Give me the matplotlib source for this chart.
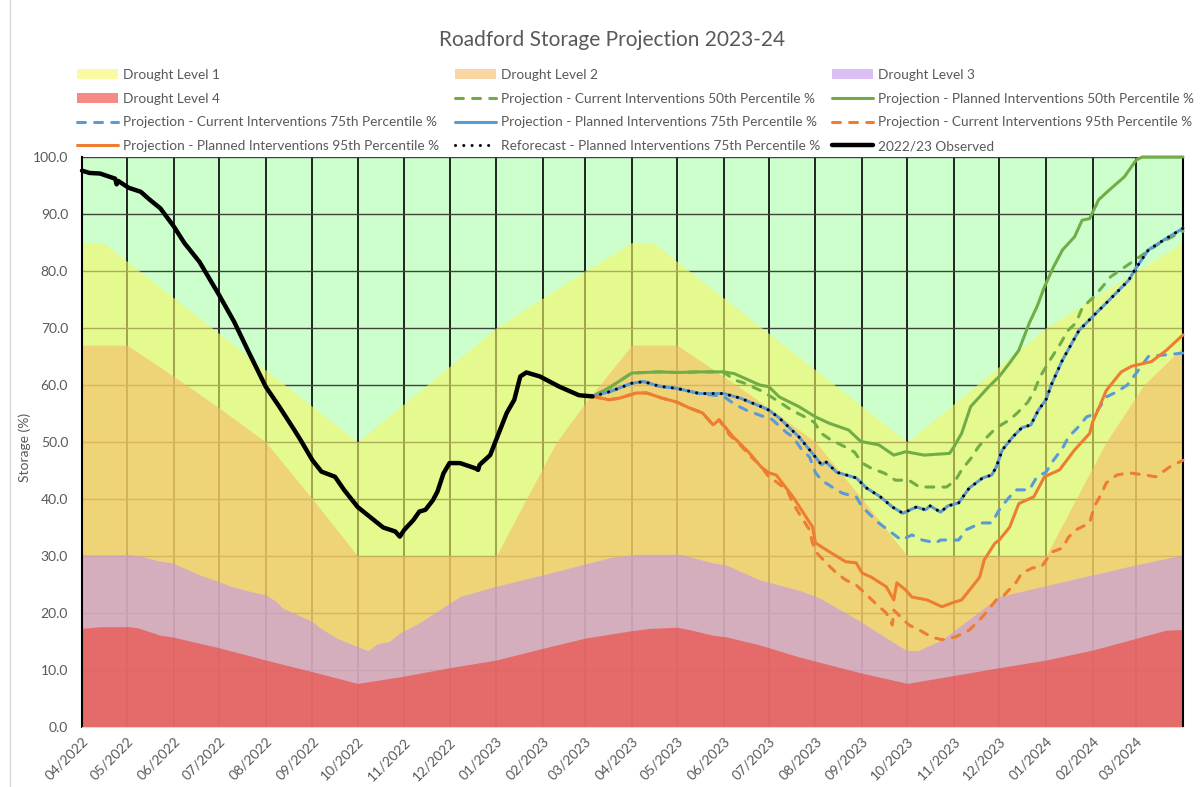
import numpy as np
import pandas as pd
import matplotlib
matplotlib.use('Agg')
import matplotlib.pyplot as plt
from matplotlib.lines import Line2D

plt.rcParams['font.family'] = ['Lato', 'DejaVu Sans']

# x values are days since 1 April 2022
START = np.datetime64('2022-04-01')

# drought trigger curves (%)
l1_days = [0, 14, 183, 275, 334, 365, 379, 548, 640, 700, 731]
l1_vals = [85, 85, 50, 70, 80, 85, 85, 50, 70, 80, 85]

l2_days = [0, 30, 61, 91, 122, 153, 183, 275, 315, 334, 365, 395, 426, 456, 487, 518, 548,
           640, 680, 705, 731]
l2_vals = [67, 67, 61.5, 56, 50, 40, 30, 30, 50, 56.8, 67, 67, 61.5, 56, 50, 40, 30,
           30, 50, 60, 66.7]

l3_days = [0, 31, 39, 50, 60, 66, 78, 91, 100, 113, 122, 129, 133, 153, 158, 169, 183, 190, 196,
           204, 211, 224, 244, 251, 275, 306, 334, 352, 370, 397, 419, 428, 450, 476, 490, 517,
           536, 547, 555, 571, 609, 640, 671, 699, 731]
l3_vals = [30.2, 30.2, 30.0, 29.2, 28.8, 28.1, 26.7, 25.5, 24.6, 23.7, 23.2, 22.0, 20.9, 18.5,
           17.4, 15.6, 14.1, 13.4, 14.6, 15.0, 16.5, 18.3, 21.7, 22.9, 24.7, 26.7, 28.6, 29.8,
           30.3, 30.3, 28.8, 28.4, 25.8, 24.0, 22.6, 18.5, 15.3, 13.5, 13.4, 15.3, 22.9, 24.8,
           26.7, 28.4, 30.2]

l4_days = [0, 12, 31, 37, 52, 60, 78, 91, 122, 153, 183, 211, 244, 275, 306, 334, 365, 377, 395,
           403, 419, 428, 450, 476, 517, 548, 609, 640, 671, 720, 731]
l4_vals = [17.3, 17.6, 17.6, 17.4, 16.1, 15.8, 14.7, 13.9, 11.75, 9.7, 7.65, 8.8, 10.4, 11.75,
           13.8, 15.6, 16.9, 17.3, 17.5, 17.1, 16.1, 15.8, 14.4, 12.3, 9.5, 7.65, 10.4, 11.75,
           13.5, 17.0, 17.1]

# observed storage 2022/23
obs_days = [0, 5, 12, 22, 23, 24, 31, 39, 45, 52, 61, 68, 78, 91, 101, 111, 122, 131, 141, 145,
            153, 159, 168, 174, 183, 191, 200, 208, 211, 214, 220, 224, 228, 233, 236, 240, 244,
            251, 261, 263, 264, 271, 275, 282, 287, 291, 295, 304, 317, 330, 339]
obs_vals = [97.6, 97.2, 97.1, 96.2, 95.2, 95.8, 94.6, 93.9, 92.5, 91.0, 87.8, 84.9, 81.6, 75.8,
            71.1, 65.6, 59.7, 56.2, 52.1, 50.4, 46.8, 44.8, 43.9, 41.6, 38.6, 36.9, 35.0, 34.3,
            33.4, 34.6, 36.3, 37.8, 38.1, 39.8, 41.3, 44.5, 46.3, 46.3, 45.4, 45.1, 46.0, 47.7,
            50.4, 55.1, 57.4, 61.5, 62.2, 61.5, 59.7, 58.2, 58.0]

# projections
pi50_days = [339, 350, 365, 383, 395, 410, 426, 433, 450, 456, 463, 476, 487, 496, 509, 517, 529,
             539, 547, 559, 576, 579, 584, 590, 602, 609, 616, 622, 629, 634, 639, 645, 651, 659,
             664, 669, 675, 682, 692, 700, 704, 731]
pi50_vals = [58.0, 59.5, 62.1, 62.3, 62.2, 62.3, 62.3, 62.0, 60.0, 59.7, 57.9, 56.2, 54.4, 53.3,
             52.1, 50.1, 49.5, 47.7, 48.3, 47.7, 48.0, 49.2, 51.5, 56.2, 59.7, 61.5, 63.9, 66.1,
             70.9, 73.7, 77.2, 80.7, 83.7, 86.0, 88.9, 89.2, 92.5, 94.2, 96.5, 99.5, 100.0, 100.0]

ci50_days = [339, 350, 365, 383, 395, 410, 426, 433, 439, 450, 456, 466, 471, 480, 486, 491, 497,
             507, 513, 518, 524, 533, 540, 549, 556, 574, 580, 584, 591, 595, 601, 607, 616, 621,
             628, 632, 636, 643, 650, 654, 660, 664, 673, 683, 694, 705, 715, 731]
ci50_vals = [58.0, 59.5, 62.1, 62.3, 62.2, 62.3, 62.3, 60.9, 60.4, 59.1, 58.2, 56.5, 55.6, 54.4,
             53.5, 51.5, 50.4, 49.1, 48.2, 46.3, 45.4, 44.5, 43.3, 43.3, 42.1, 42.1, 43.3, 45.1,
             47.4, 49.1, 50.9, 52.5, 53.9, 55.1, 57.0, 58.8, 61.4, 64.5, 67.4, 69.4, 70.9, 73.5,
             75.8, 79.0, 81.0, 83.0, 84.8, 87.0]

pi75_days = [339, 350, 365, 373, 383, 395, 410, 426, 437, 450, 456, 463, 476, 485, 491, 494, 501,
             514, 521, 530, 538, 545, 554, 560, 563, 570, 575, 582, 589, 598, 604, 607, 611, 618,
             624, 630, 635, 640, 644, 651, 662, 671, 682, 695, 699, 708, 718, 731]
pi75_vals = [58.0, 58.8, 60.3, 60.6, 59.8, 59.4, 58.5, 58.5, 57.7, 56.3, 55.6, 54.2, 50.9, 48.0,
             46.0, 46.5, 44.7, 43.7, 41.9, 40.4, 38.6, 37.5, 38.6, 38.1, 38.8, 37.7, 38.8, 39.3,
             41.9, 43.7, 44.2, 45.6, 48.6, 50.9, 52.5, 53.0, 55.6, 57.4, 60.3, 64.4, 69.6, 72.0,
             74.9, 78.4, 80.2, 83.7, 85.4, 87.5]

ci75_days = [339, 350, 365, 373, 383, 395, 410, 426, 434, 441, 451, 458, 468, 472, 478, 483, 487,
             491, 498, 505, 514, 518, 525, 529, 538, 544, 551, 558, 567, 570, 582, 587, 597, 604,
             609, 614, 620, 629, 634, 640, 645, 651, 655, 661, 667, 673, 680, 687, 694, 700, 708,
             731]
ci75_vals = [58.0, 58.8, 60.3, 60.6, 59.8, 59.4, 58.5, 58.0, 56.5, 55.6, 54.6, 54.0, 51.6, 50.9,
             48.6, 47.4, 44.6, 43.3, 42.1, 41.0, 40.4, 38.6, 36.8, 35.8, 34.0, 32.8, 33.7, 32.8,
             32.3, 32.8, 32.8, 34.6, 35.8, 35.8, 38.1, 39.8, 41.6, 41.6, 43.9, 44.7, 46.8, 48.9,
             50.9, 52.5, 54.4, 55.0, 57.9, 58.8, 60.0, 62.1, 65.0, 65.6]

pi95_days = [339, 350, 357, 368, 375, 385, 395, 403, 412, 419, 423, 432, 443, 451, 456, 461, 467,
             472, 485, 487, 494, 507, 514, 518, 524, 534, 539, 541, 547, 551, 561, 571, 578, 584,
             591, 596, 599, 606, 609, 616, 622, 632, 639, 649, 659, 669, 671, 676, 680, 686, 690,
             697, 710, 720, 731]
pi95_vals = [58.0, 57.4, 57.7, 58.6, 58.6, 57.7, 57.0, 56.0, 55.1, 53.0, 53.9, 51.0, 48.1, 45.6,
             44.6, 44.2, 42.1, 40.4, 35.1, 32.3, 31.1, 29.0, 28.8, 27.0, 26.3, 24.6, 22.3, 25.3,
             24.0, 22.8, 22.3, 21.1, 21.8, 22.3, 24.6, 26.3, 29.3, 32.2, 32.8, 35.1, 39.2, 40.4,
             43.9, 45.1, 48.6, 51.5, 53.5, 56.5, 59.0, 61.0, 62.3, 63.3, 64.1, 66.1, 68.8]

ci95_days = [339, 350, 357, 368, 375, 385, 395, 403, 412, 419, 423, 430, 436, 443, 450, 456, 461,
             468, 472, 476, 483, 485, 488, 494, 501, 507, 514, 521, 526, 534, 538, 539, 549, 556,
             564, 571, 580, 589, 596, 600, 607, 611, 620, 624, 631, 637, 644, 651, 655, 660, 669,
             672, 677, 680, 687, 695, 706, 713, 722, 731]
ci95_vals = [58.0, 57.4, 57.7, 58.6, 58.6, 57.7, 57.0, 56.0, 55.1, 53.0, 53.9, 51.2, 49.8, 47.7,
             46.0, 43.9, 43.0, 41.6, 39.3, 37.5, 34.6, 32.3, 30.5, 28.8, 27.0, 25.8, 24.9, 23.2,
             21.9, 20.0, 17.9, 20.5, 17.9, 17.0, 15.8, 15.3, 15.8, 17.0, 18.8, 20.0, 22.3, 22.8,
             25.3, 27.0, 27.9, 28.1, 30.7, 31.4, 33.3, 34.6, 35.8, 38.6, 41.0, 42.8, 44.2, 44.6,
             44.2, 43.9, 45.6, 46.8]

# reforecast sits on top of the planned 75th percentile
ref_days = pi75_days
ref_vals = pi75_vals


def to_dates(days):
    return START + np.array(days, dtype='timedelta64[D]')


GREY = '#595959'
GREEN = '#70AD47'
BLUE = '#5B9BD5'
ORANGE = '#ED7D31'
DASH = (0, (2.6, 3.0))

fig = plt.figure(figsize=(12, 7.87), dpi=100)
ax = fig.add_axes([82 / 1200, 60 / 787, 1101 / 1200, 570 / 787])
ax.set_facecolor('#CCFFCC')

# drought levels, semi transparent so they blend like the original
f1 = ax.fill_between(to_dates(l1_days), 0, l1_vals, color='#F6F766', alpha=0.6, lw=0,
                     label='Drought Level 1')
f2 = ax.fill_between(to_dates(l2_days), 0, l2_vals, color='#F7BB69', alpha=0.6, lw=0,
                     label='Drought Level 2')
f3 = ax.fill_between(to_dates(l3_days), 0, l3_vals, color='#C396EB', alpha=0.6, lw=0,
                     label='Drought Level 3')
f4 = ax.fill_between(to_dates(l4_days), 0, l4_vals, color='#F13E34', alpha=0.6, lw=0,
                     label='Drought Level 4')

lw = 2.2
kw = dict(solid_capstyle='round', dash_capstyle='round', clip_on=False, zorder=3)
h_ci50, = ax.plot(to_dates(ci50_days), ci50_vals, color=GREEN, lw=lw, ls=DASH,
                  label='Projection - Current Interventions 50th Percentile %', **kw)
h_pi50, = ax.plot(to_dates(pi50_days), pi50_vals, color=GREEN, lw=lw,
                  label='Projection - Planned Interventions 50th Percentile %', **kw)
h_ci75, = ax.plot(to_dates(ci75_days), ci75_vals, color=BLUE, lw=lw, ls=DASH,
                  label='Projection - Current Interventions 75th Percentile %', **kw)
h_pi75, = ax.plot(to_dates(pi75_days), pi75_vals, color=BLUE, lw=lw,
                  label='Projection - Planned Interventions 75th Percentile %', **kw)
h_ci95, = ax.plot(to_dates(ci95_days), ci95_vals, color=ORANGE, lw=lw, ls=DASH,
                  label='Projection - Current Interventions 95th Percentile %', **kw)
h_pi95, = ax.plot(to_dates(pi95_days), pi95_vals, color=ORANGE, lw=lw,
                  label='Projection - Planned Interventions 95th Percentile %', **kw)
h_ref, = ax.plot(to_dates(ref_days), ref_vals, color='black', lw=lw, ls=(0, (0.01, 2.7)),
                 label='Reforecast - Planned Interventions 75th Percentile %', **kw)
h_obs, = ax.plot(to_dates(obs_days), obs_vals, color='black', lw=3.2,
                 label='2022/23 Observed', **kw)

# axes
months = pd.date_range('2022-04-01', '2024-04-01', freq='MS')
ax.set_xlim(months[0], months[-1])
ax.set_xticks(months)
ax.set_xticklabels([m.strftime('%m/%Y') for m in months[:-1]] + [''], rotation=45,
                   ha='right', rotation_mode='anchor')
ax.set_ylim(0, 100)
ax.set_yticks(np.arange(0, 101, 10))
ax.set_yticklabels(['%.1f' % v for v in np.arange(0, 101, 10)])
ax.tick_params(length=0, labelcolor=GREY, labelsize=10)
ax.tick_params(axis='x', pad=6)
ax.tick_params(axis='y', pad=10)

ax.set_axisbelow(True)
ax.grid(axis='x', color='black', lw=1.2)
ax.grid(axis='y', color='#404040', lw=1.0)
ax.spines['top'].set_visible(False)
ax.spines['bottom'].set_color('#D9D9D9')
ax.spines['left'].set_color('black')
ax.spines['left'].set_linewidth(1.5)
ax.spines['right'].set_color('black')
ax.spines['right'].set_linewidth(1.5)

fig.text(612 / 1200, 1 - 40 / 787, 'Roadford Storage Projection 2023-24', ha='center',
         va='center', fontsize=15, color=GREY)
fig.text(25 / 1200, 1 - 447 / 787, 'Storage (%)', rotation=90, ha='center', va='center',
         fontsize=10, color=GREY)

# legend: three columns placed at the same x as the original
cols = [[f1, f4, h_ci75, h_pi95],
        [f2, h_ci50, h_pi75, h_ref],
        [f3, h_pi50, h_ci95, h_obs]]
col_x = [77, 455, 832]
for handles, x in zip(cols, col_x):
    leg = fig.legend(handles=handles, loc='upper left', bbox_to_anchor=(x / 1200, 1 - 69 / 787),
                     frameon=False, fontsize=9.8, handlelength=3.0, handletextpad=0.35,
                     labelspacing=0.86, borderpad=0, borderaxespad=0)
    for t in leg.get_texts():
        t.set_color(GREY)

fig.add_artist(Line2D([10 / 1200, 10 / 1200], [0, 1], color='#D9D9D9', lw=1))

fig.savefig('out.png', dpi=100)
